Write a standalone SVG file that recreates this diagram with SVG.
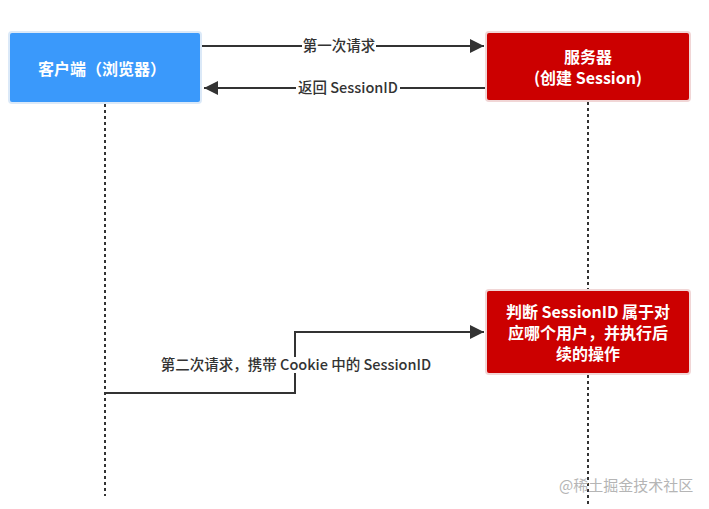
<svg xmlns="http://www.w3.org/2000/svg" width="709" height="509" viewBox="0 0 709 509">
<style>
.box-blue{fill:#3a99fb;stroke:#dbe9f8;stroke-width:2}
.box-red{fill:#cc0000;stroke:#f1d6d6;stroke-width:2}
.bt{font-family:"Noto Sans CJK SC","Noto Sans",sans-serif;font-size:16px;font-weight:bold;fill:#ffffff;text-anchor:middle}
.lt{font-family:"Noto Sans CJK SC","Noto Sans",sans-serif;font-size:14.5px;font-weight:500;fill:#333333;text-anchor:middle}
.line{stroke:#333333;stroke-width:2;fill:none}
.life{stroke:#333333;stroke-width:2;stroke-dasharray:3 3;fill:none}
.wm{font-family:"Noto Sans CJK SC","Noto Sans",sans-serif;font-size:15px;fill:#b5b5b5}
</style>
<defs>
<marker id="ah" viewBox="0 0 10 10" refX="10" refY="5" markerWidth="20" markerHeight="14" markerUnits="userSpaceOnUse" orient="auto">
<path d="M0,0 L10,5 L0,10 z" fill="#333333"/>
</marker>
</defs>
<rect width="709" height="509" fill="#ffffff"/>
<g id="lifelines">
<line class="life" x1="105" y1="104" x2="105" y2="496"/>
<line class="life" x1="588" y1="102" x2="588" y2="290"/>
<line class="life" x1="588" y1="375" x2="588" y2="505"/>
</g>
<g id="connectors">
<line class="line" x1="202" y1="46" x2="484" y2="46" marker-end="url(#ah)"/>
<rect x="302" y="38" width="74" height="16" fill="#ffffff"/>
<text class="lt" x="339" y="51">第一次请求</text>
<line class="line" x1="486" y1="88" x2="204" y2="88" marker-end="url(#ah)"/>
<rect x="296" y="80" width="104" height="16" fill="#ffffff"/>
<text class="lt" x="348" y="93">返回 SessionID</text>
<polyline class="line" points="105,393 295,393 295,332 484,332" marker-end="url(#ah)"/>
<rect x="155" y="357" width="282" height="16" fill="#ffffff"/>
<text class="lt" x="296" y="370">第二次请求，携带 Cookie 中的 SessionID</text>
</g>
<g id="client">
<rect class="box-blue" x="9" y="32" width="192" height="71" rx="3"/>
<text class="bt" x="102" y="75">客户端（浏览器）</text>
</g>
<g id="server">
<rect class="box-red" x="486" y="32" width="204" height="69" rx="3"/>
<text class="bt" x="588" y="63">服务器</text>
<text class="bt" x="588" y="84">(创建 Session)</text>
</g>
<g id="judge">
<rect class="box-red" x="486" y="290" width="204" height="84" rx="3"/>
<text class="bt" x="588" y="318">判断 SessionID 属于对</text>
<text class="bt" x="588" y="339">应哪个用户，并执行后</text>
<text class="bt" x="588" y="360">续的操作</text>
</g>
<text class="wm" x="559" y="491">@稀土掘金技术社区</text>
</svg>
